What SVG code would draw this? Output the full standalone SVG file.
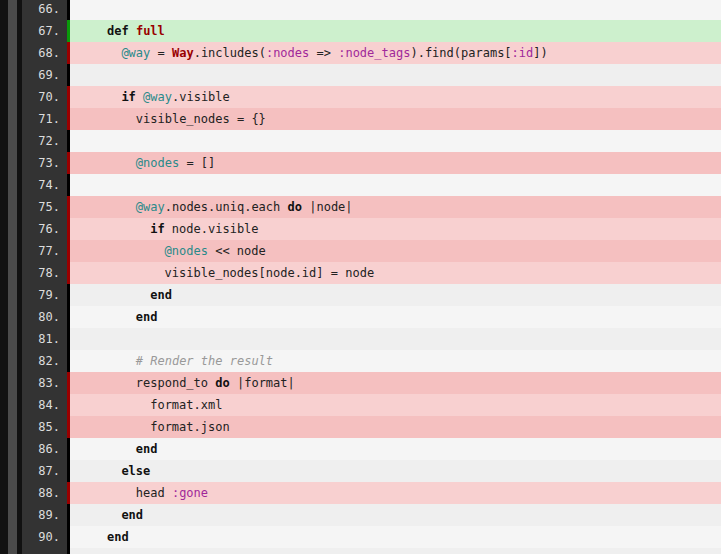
<svg xmlns="http://www.w3.org/2000/svg" width="721" height="554" viewBox="0 0 721 554">
<style>
.n{font-family:"DejaVu Sans Mono",monospace;font-size:12px;fill:#ddd;text-anchor:end}
.c{font-family:"DejaVu Sans Mono",monospace;font-size:12px;fill:#222;white-space:pre}
.k{font-weight:bold;fill:#111}
.r{font-weight:bold;fill:#900}
.i{fill:#2a8a8a}
.s{fill:#a0289a}
.m{fill:#999;font-style:italic}
</style>
<rect width="721" height="554" fill="#f5f5f5"/>
<g id="rows">
<rect x="70" y="-2" width="651" height="22" fill="#f5f5f5"/>
<rect x="70" y="20" width="651" height="22" fill="#cdf0cd"/>
<rect x="70" y="42" width="651" height="22" fill="#f8d0d0"/>
<rect x="70" y="64" width="651" height="22" fill="#efefef"/>
<rect x="70" y="86" width="651" height="22" fill="#f8d0d0"/>
<rect x="70" y="108" width="651" height="22" fill="#f5c0c0"/>
<rect x="70" y="130" width="651" height="22" fill="#f5f5f5"/>
<rect x="70" y="152" width="651" height="22" fill="#f5c0c0"/>
<rect x="70" y="174" width="651" height="22" fill="#f5f5f5"/>
<rect x="70" y="196" width="651" height="22" fill="#f5c0c0"/>
<rect x="70" y="218" width="651" height="22" fill="#f8d0d0"/>
<rect x="70" y="240" width="651" height="22" fill="#f5c0c0"/>
<rect x="70" y="262" width="651" height="22" fill="#f8d0d0"/>
<rect x="70" y="284" width="651" height="22" fill="#efefef"/>
<rect x="70" y="306" width="651" height="22" fill="#f5f5f5"/>
<rect x="70" y="328" width="651" height="22" fill="#efefef"/>
<rect x="70" y="350" width="651" height="22" fill="#f5f5f5"/>
<rect x="70" y="372" width="651" height="22" fill="#f5c0c0"/>
<rect x="70" y="394" width="651" height="22" fill="#f8d0d0"/>
<rect x="70" y="416" width="651" height="22" fill="#f5c0c0"/>
<rect x="70" y="438" width="651" height="22" fill="#f5f5f5"/>
<rect x="70" y="460" width="651" height="22" fill="#efefef"/>
<rect x="70" y="482" width="651" height="22" fill="#f8d0d0"/>
<rect x="70" y="504" width="651" height="22" fill="#efefef"/>
<rect x="70" y="526" width="651" height="22" fill="#f5f5f5"/>
<rect x="70" y="548" width="651" height="22" fill="#efefef"/>
</g>
<g id="gutter">
<rect x="0" y="0" width="8" height="554" fill="#111"/>
<rect x="8" y="0" width="9" height="554" fill="#4a4a4a"/>
<rect x="17" y="0" width="5" height="554" fill="#111"/>
<rect x="22" y="0" width="45" height="554" fill="#333"/>
<rect x="67" y="0" width="3" height="554" fill="#000"/>
<rect x="67" y="20" width="3" height="22" fill="#0a9a0a"/>
<rect x="67" y="42" width="3" height="22" fill="#990000"/>
<rect x="67" y="86" width="3" height="44" fill="#990000"/>
<rect x="67" y="152" width="3" height="22" fill="#990000"/>
<rect x="67" y="196" width="3" height="88" fill="#990000"/>
<rect x="67" y="372" width="3" height="66" fill="#990000"/>
<rect x="67" y="482" width="3" height="22" fill="#990000"/>
</g>
<g id="numbers">
<text class="n" x="60" y="13">66.</text>
<text class="n" x="60" y="35">67.</text>
<text class="n" x="60" y="57">68.</text>
<text class="n" x="60" y="79">69.</text>
<text class="n" x="60" y="101">70.</text>
<text class="n" x="60" y="123">71.</text>
<text class="n" x="60" y="145">72.</text>
<text class="n" x="60" y="167">73.</text>
<text class="n" x="60" y="189">74.</text>
<text class="n" x="60" y="211">75.</text>
<text class="n" x="60" y="233">76.</text>
<text class="n" x="60" y="255">77.</text>
<text class="n" x="60" y="277">78.</text>
<text class="n" x="60" y="299">79.</text>
<text class="n" x="60" y="321">80.</text>
<text class="n" x="60" y="343">81.</text>
<text class="n" x="60" y="365">82.</text>
<text class="n" x="60" y="387">83.</text>
<text class="n" x="60" y="409">84.</text>
<text class="n" x="60" y="431">85.</text>
<text class="n" x="60" y="453">86.</text>
<text class="n" x="60" y="475">87.</text>
<text class="n" x="60" y="497">88.</text>
<text class="n" x="60" y="519">89.</text>
<text class="n" x="60" y="541">90.</text>
</g>
<g id="code">
<text class="c" x="107" y="35"><tspan class="k">def</tspan> <tspan class="r">full</tspan></text>
<text class="c" x="121.4" y="57"><tspan class="i">@way</tspan> = <tspan class="r">Way</tspan>.includes(<tspan class="s">:nodes</tspan> =&gt; <tspan class="s">:node_tags</tspan>).find(params[<tspan class="s">:id</tspan>])</text>
<text class="c" x="121.4" y="101"><tspan class="k">if</tspan> <tspan class="i">@way</tspan>.visible</text>
<text class="c" x="135.8" y="123">visible_nodes = {}</text>
<text class="c" x="135.8" y="167"><tspan class="i">@nodes</tspan> = []</text>
<text class="c" x="135.8" y="211"><tspan class="i">@way</tspan>.nodes.uniq.each <tspan class="k">do</tspan> |node|</text>
<text class="c" x="150.2" y="233"><tspan class="k">if</tspan> node.visible</text>
<text class="c" x="164.6" y="255"><tspan class="i">@nodes</tspan> &lt;&lt; node</text>
<text class="c" x="164.6" y="277">visible_nodes[node.id] = node</text>
<text class="c k" x="150.2" y="299">end</text>
<text class="c k" x="135.8" y="321">end</text>
<text class="c m" x="135.8" y="365"># Render the result</text>
<text class="c" x="135.8" y="387">respond_to <tspan class="k">do</tspan> |format|</text>
<text class="c" x="150.2" y="409">format.xml</text>
<text class="c" x="150.2" y="431">format.json</text>
<text class="c k" x="135.8" y="453">end</text>
<text class="c k" x="121.4" y="475">else</text>
<text class="c" x="135.8" y="497">head <tspan class="s">:gone</tspan></text>
<text class="c k" x="121.4" y="519">end</text>
<text class="c k" x="107" y="541">end</text>
</g>
</svg>
